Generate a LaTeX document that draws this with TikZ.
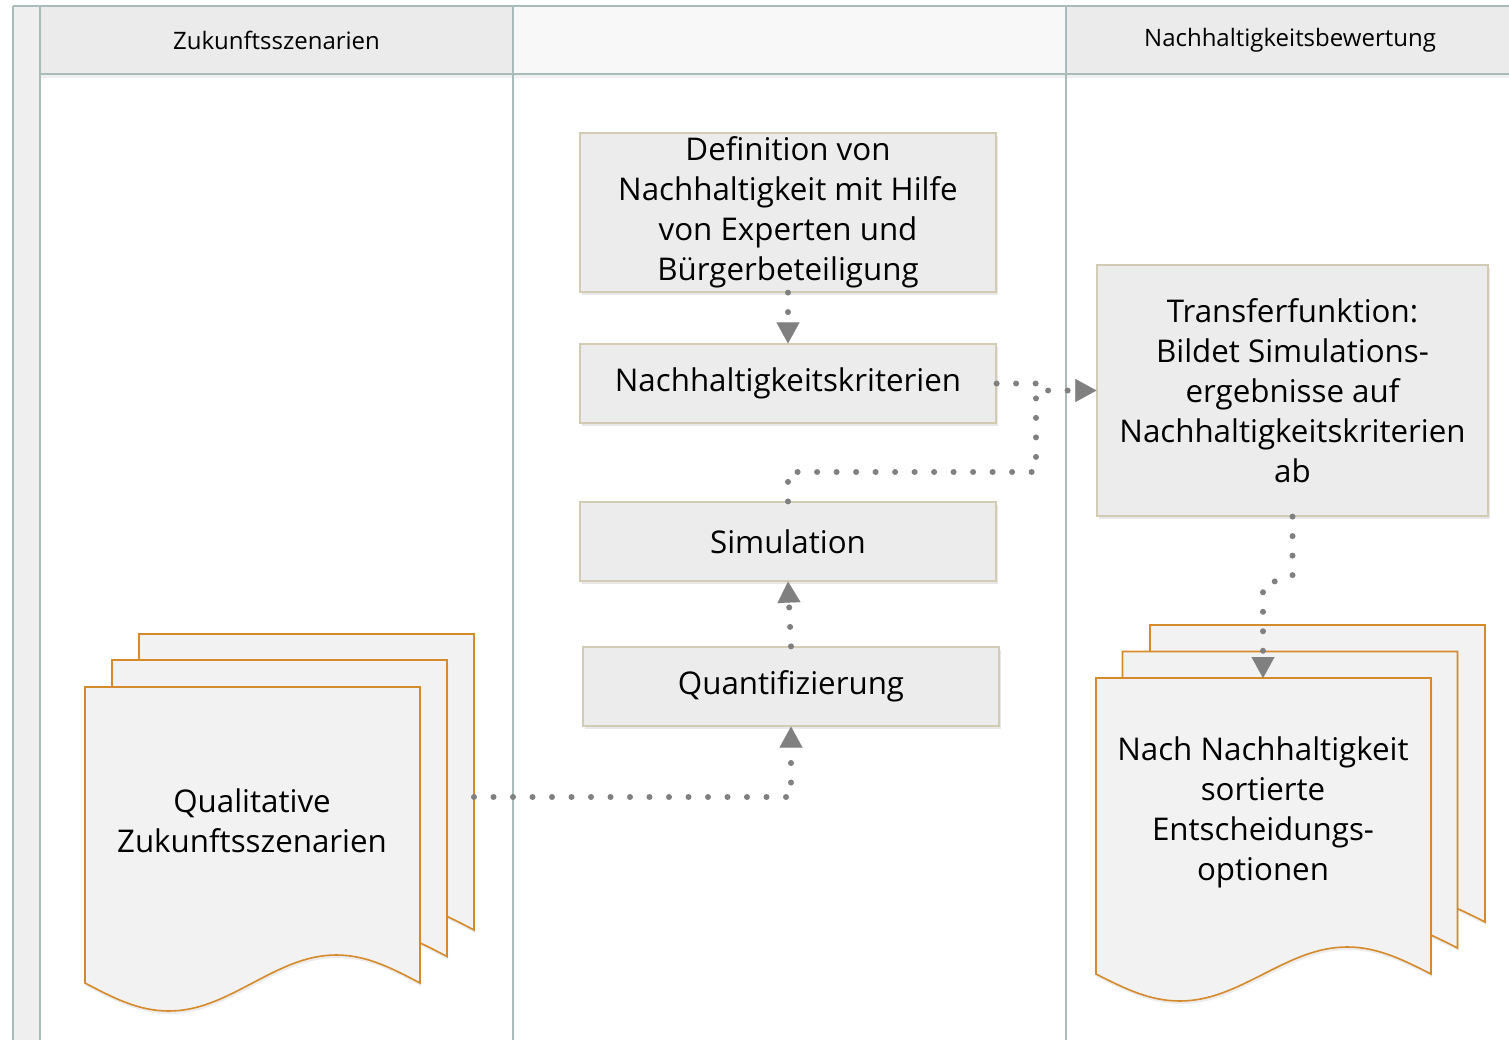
\documentclass[tikz,border=0pt]{standalone}
\usepackage{fontspec}
\setmainfont{Open Sans}
\usetikzlibrary{arrows.meta,shadows}
\definecolor{lanec}{HTML}{A8BDB9}
\definecolor{headc}{HTML}{EBEBEB}
\definecolor{headmid}{HTML}{F8F8F8}
\definecolor{stripc}{HTML}{EFEFEF}
\definecolor{boxfill}{HTML}{ECECEC}
\definecolor{boxline}{HTML}{D2CCB4}
\definecolor{docline}{HTML}{D58B2B}
\definecolor{docfill}{HTML}{F2F2F2}
\definecolor{connc}{HTML}{808080}
\tikzset{
  procbox/.style={draw=boxline, fill=boxfill, line width=1.2pt, minimum width=416pt,
    minimum height=79pt, inner sep=0pt, align=center,
    font=\fontsize{31.3}{40}\selectfont,
    drop shadow={shadow xshift=2pt, shadow yshift=-3pt, opacity=0.18}},
  doctext/.style={align=center, font=\fontsize{31.3}{40}\selectfont},
  headtext/.style={font=\fontsize{24}{28}\selectfont},
  lanebar/.style={draw=lanec, line width=1.5pt},
  docpage/.style={draw=docline, fill=docfill, line width=1.6pt, line join=miter,
    drop shadow={shadow xshift=1pt, shadow yshift=-3pt, opacity=0.15}},
  dotline/.style={draw=connc, line width=6pt, line cap=round,
    dash pattern=on 0pt off 19.5pt},
  dotarrow/.style={dotline, -{Triangle[length=21pt,width=23pt,line width=0.1pt]}}
}
\newcommand\mydocpage[5]{% x0, ytop, yb, w, amp
  \pgfmathsetmacro\dpA{#1+0.08357*#4}\pgfmathsetmacro\dpB{#1+0.15915*#4}%
  \pgfmathsetmacro\dpC{#1+0.25*#4}\pgfmathsetmacro\dpD{#1+0.34085*#4}%
  \pgfmathsetmacro\dpE{#1+0.41643*#4}\pgfmathsetmacro\dpF{#1+0.5*#4}%
  \pgfmathsetmacro\dpG{#1+0.58357*#4}\pgfmathsetmacro\dpH{#1+0.65915*#4}%
  \pgfmathsetmacro\dpI{#1+0.75*#4}\pgfmathsetmacro\dpJ{#1+0.84085*#4}%
  \pgfmathsetmacro\dpK{#1+0.91643*#4}\pgfmathsetmacro\dpL{#1+#4}%
  \pgfmathsetmacro\dpYa{#3+0.5251*#5}\pgfmathsetmacro\dpYb{#3+#5}%
  \pgfmathsetmacro\dpYc{#3-0.5251*#5}\pgfmathsetmacro\dpYd{#3-#5}%
  \path[docpage] (#1,#2) -- (#1,#3)
    .. controls (\dpA,\dpYa) and (\dpB,\dpYb) .. (\dpC,\dpYb)
    .. controls (\dpD,\dpYb) and (\dpE,\dpYa) .. (\dpF,#3)
    .. controls (\dpG,\dpYc) and (\dpH,\dpYd) .. (\dpI,\dpYd)
    .. controls (\dpJ,\dpYd) and (\dpK,\dpYc) .. (\dpL,#3)
    -- (\dpL,#2) -- cycle;
}
\begin{document}
\begin{tikzpicture}[x=1pt, y=-1pt]
\useasboundingbox (0,0) rectangle (1509,1040);
\fill[white] (0,0) rectangle (1509,1040);
% swimlanes
\fill[stripc] (13,6) rectangle (40,1040);
\fill[headc] (40,6) rectangle (513,74);
\fill[headmid] (513,6) rectangle (1066,74);
\fill[headc] (1066,6) rectangle (1509,74);
\fill[black, opacity=0.06] (40,74) rectangle (1509,78);
\draw[lanebar] (13,6) -- (1509,6);
\draw[lanebar] (40,74) -- (1509,74);
\draw[lanebar] (13,6) -- (13,1040);
\draw[lanebar] (40,6) -- (40,1040);
\draw[lanebar] (513,6) -- (513,1040);
\draw[lanebar] (1066,6) -- (1066,1040);
\node[headtext] (h1) at (276.5,40) {Zukunftsszenarien};
\node[headtext] (h3) at (1290,40) {Nachhaltigkeitsbewertung};
% process boxes
\node[procbox, minimum height=159pt] (def) at (788,212.5)
  {Definition von\\Nachhaltigkeit mit Hilfe\\von Experten und\\Bürgerbeteiligung};
\node[procbox] (krit) at (788,383.5) {Nachhaltigkeitskriterien};
\node[procbox] (sim) at (788,541.5) {Simulation};
\node[procbox] (quant) at (791,686.5) {Quantifizierung};
\node[procbox, minimum width=391pt, minimum height=251pt] (trans) at (1292.5,390.5)
  {Transferfunktion:\\Bildet Simulations-\\ergebnisse auf\\Nachhaltigkeitskriterien\\ab};
% left documents
\mydocpage{139}{634}{930}{335}{28}
\mydocpage{112}{660}{956.5}{335}{28}
\mydocpage{85}{687}{983}{335}{28}
\node[doctext] (qz) at (252,821) {Qualitative\\Zukunftsszenarien};
\coordinate (qzout) at (474,797);
% right documents
\mydocpage{1150}{625}{922}{335}{27}
\mydocpage{1122.5}{651.5}{948}{335}{27}
\mydocpage{1096}{678}{974}{335}{27}
\node[doctext] (opt) at (1263,812) {Nach Nachhaltigkeit\\sortierte\\Entscheidungs-\\optionen};
\coordinate (optin) at (1263,678);
% connectors
\draw[dotarrow] (def.south) -- (krit.north);
\draw[dotarrow] (krit.east) -- (1036,383.5) |- (trans.west);
\draw[dotline] (sim.north) -- (788,472) -| (1036,390.5);
\draw[dotarrow] (quant.north) -- (sim.south);
\draw[dotarrow] (qzout) -| (quant.south);
\coordinate (tj1) at (1292.5,576);
\coordinate (tj2) at (1263,585);
\draw[dotarrow] (trans.south) -- (tj1) -- (tj2) -- (optin);
\end{tikzpicture}
\end{document}
